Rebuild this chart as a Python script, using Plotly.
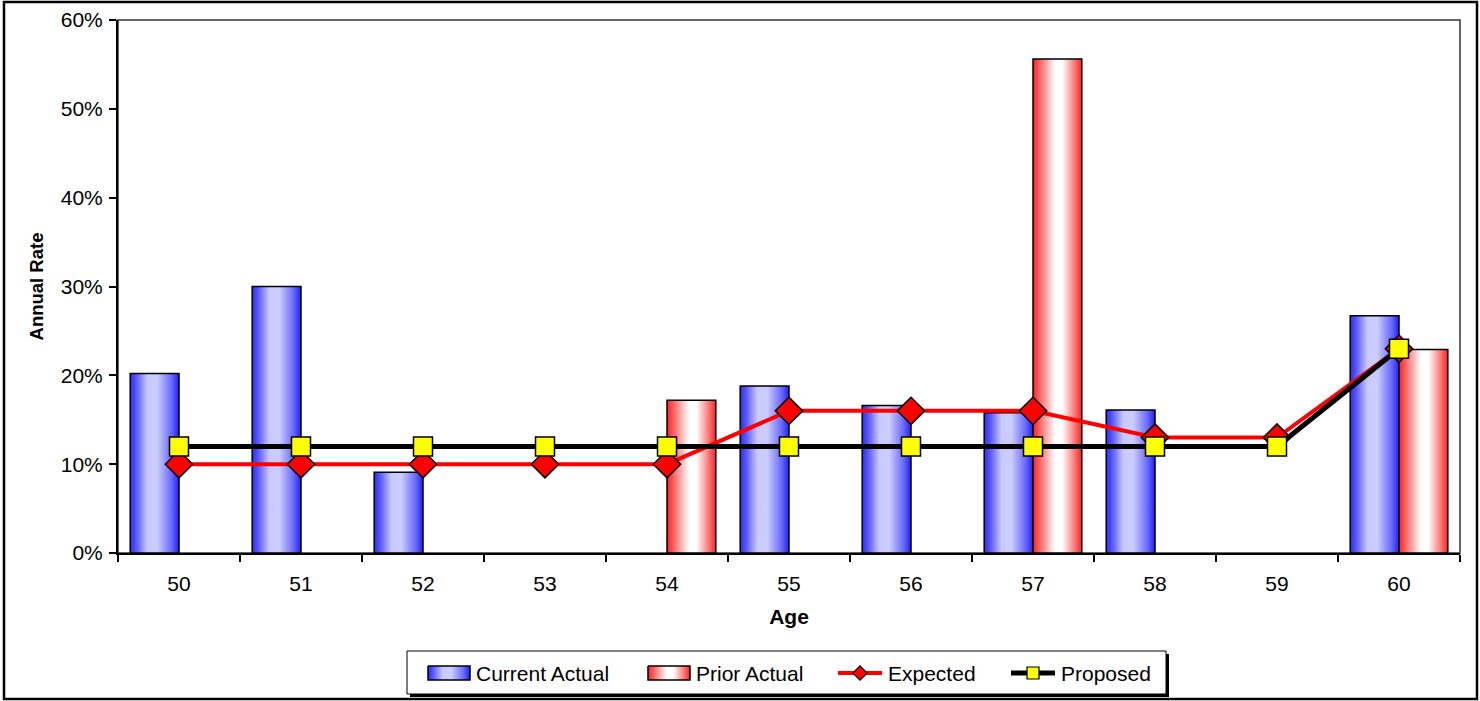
import plotly.graph_objects as go

# Termination rates by age
ages = [50, 51, 52, 53, 54, 55, 56, 57, 58, 59, 60]
current_actual = [0.202, 0.300, 0.091, None, None, 0.188, 0.166, 0.158, 0.161, None, 0.267]
prior_actual = [None, None, None, None, 0.172, None, None, 0.556, None, None, 0.229]
expected = [0.10, 0.10, 0.10, 0.10, 0.10, 0.16, 0.16, 0.16, 0.13, 0.13, 0.23]
proposed = [0.12, 0.12, 0.12, 0.12, 0.12, 0.12, 0.12, 0.12, 0.12, 0.12, 0.23]
y_ticks = [0, 0.1, 0.2, 0.3, 0.4, 0.5, 0.6]
series_names = ["Current Actual", "Prior Actual", "Expected", "Proposed"]

# Figure geometry (pixels)
W, H = 1480, 701
PLOT_L, PLOT_R, PLOT_T, PLOT_B = 118, 1460, 20, 553
BAR_W = 0.4  # width of each bar in axis units (two bars per age)

BLUE_SCALE = [[0, "#2C2CFF"], [0.12, "#5656FF"], [0.35, "#C8C8FF"],
              [0.55, "#CDCDFF"], [0.85, "#6868FF"], [1, "#1E1EFF"]]
RED_SCALE = [[0, "#FF2020"], [0.15, "#FF6a6a"], [0.45, "#FFFFFF"],
             [0.6, "#FFFFFF"], [0.85, "#FF7a7a"], [1, "#FF2020"]]
RED, YELLOW = "#FF0000", "#FFFF00"
FONT = "Liberation Sans, Arial, sans-serif"

fig = go.Figure()


def gradient_rect(x0, x1, y0, y1, scale, xaxis="x", yaxis="y"):
    return go.Scatter(
        x=[x0, x1, x1, x0, x0], y=[y0, y0, y1, y1, y0],
        xaxis=xaxis, yaxis=yaxis,
        mode="lines", fill="toself",
        fillgradient=dict(type="horizontal", colorscale=scale),
        line=dict(color="black", width=1.5),
        showlegend=False, hoverinfo="skip",
    )


def add_bars(values, offset, scale):
    for age, v in zip(ages, values):
        if v is None:
            continue
        fig.add_trace(gradient_rect(age + offset, age + offset + BAR_W, 0, v, scale))


add_bars(current_actual, -BAR_W, BLUE_SCALE)
add_bars(prior_actual, 0.0, RED_SCALE)

fig.add_trace(go.Scatter(
    x=ages, y=expected, name=series_names[2], mode="lines+markers",
    line=dict(color=RED, width=4),
    marker=dict(symbol="diamond", size=21, color=RED,
                line=dict(color="black", width=1.5)),
    showlegend=False,
))
fig.add_trace(go.Scatter(
    x=ages, y=proposed, name=series_names[3], mode="lines+markers",
    line=dict(color="black", width=5),
    marker=dict(symbol="square", size=19, color=YELLOW,
                line=dict(color="black", width=1.5)),
    showlegend=False,
))

# ---- legend, drawn on a full-figure pixel overlay (x2/y2) ----
LEG_L, LEG_R, LEG_T, LEG_B = 407, 1166, 651, 694
leg_cy = (LEG_T + LEG_B) / 2 + 0.5
# symbol start, symbol end, text start for each entry
leg_items = [(428, 470, 475), (648, 690, 695), (838, 882, 887), (1011, 1055, 1060)]

fig.add_trace(gradient_rect(leg_items[0][0], leg_items[0][1], leg_cy - 7, leg_cy + 7,
                            BLUE_SCALE, "x2", "y2"))
fig.add_trace(gradient_rect(leg_items[1][0], leg_items[1][1], leg_cy - 7, leg_cy + 7,
                            RED_SCALE, "x2", "y2"))
for (s0, s1, _), color, lw, sym, fillc in [
        (leg_items[2], RED, 4, "diamond", RED),
        (leg_items[3], "black", 5, "square", YELLOW)]:
    fig.add_trace(go.Scatter(
        x=[s0, s1], y=[leg_cy, leg_cy], xaxis="x2", yaxis="y2", mode="lines",
        line=dict(color=color, width=lw), showlegend=False, hoverinfo="skip"))
    fig.add_trace(go.Scatter(
        x=[(s0 + s1) / 2], y=[leg_cy], xaxis="x2", yaxis="y2", mode="markers",
        marker=dict(symbol=sym, size=12 if sym == "square" else 11, color=fillc,
                    line=dict(color="black", width=1.2)),
        showlegend=False, hoverinfo="skip"))

annotations = [
    dict(x=tx, y=leg_cy, xref="x2", yref="y2", text=name, showarrow=False,
         xanchor="left", yanchor="middle", font=dict(size=21, family=FONT),
         borderpad=0)
    for (_, _, tx), name in zip(leg_items, series_names)
]

boundaries = [a - 0.5 for a in ages] + [ages[-1] + 0.5]

fig.update_layout(
    width=W, height=H,
    margin=dict(l=0, r=0, t=0, b=0, autoexpand=False),
    paper_bgcolor="white", plot_bgcolor="rgba(0,0,0,0)",
    font=dict(family=FONT, size=21, color="black"),
    showlegend=False,
    xaxis=dict(
        domain=[PLOT_L / W, PLOT_R / W], anchor="y",
        range=[ages[0] - 0.5, ages[-1] + 0.5],
        tickvals=ages, ticktext=[str(a) for a in ages],
        ticks="", showgrid=False, zeroline=False,
        showline=True, linecolor="black", linewidth=2,
        minor=dict(tickvals=boundaries, ticks="outside", ticklen=7,
                   tickwidth=2, tickcolor="black", showgrid=False),
        ticklabelstandoff=11,
        title=dict(text="<b>Age</b>", font=dict(size=21), standoff=15),
        tickfont=dict(size=21), automargin=False,
    ),
    yaxis=dict(
        domain=[(H - PLOT_B) / H, (H - PLOT_T) / H], anchor="x",
        range=[0, 0.6], tickvals=y_ticks, tickformat=".0%",
        ticks="outside", ticklen=7, tickwidth=2, tickcolor="black",
        showgrid=False, zeroline=False,
        showline=True, linecolor="black", linewidth=2,
        ticklabelstandoff=2,
        title=dict(text="<b>Annual Rate</b>", font=dict(size=18.5), standoff=12),
        tickfont=dict(size=21), automargin=False,
    ),
    xaxis2=dict(domain=[0, 1], range=[0, W], anchor="y2", visible=False,
                fixedrange=True),
    yaxis2=dict(domain=[0, 1], range=[H, 0], anchor="x2", visible=False,
                fixedrange=True),
    annotations=annotations,
    shapes=[
        # plot-area frame
        dict(type="rect", xref="x domain", yref="y domain", x0=0, x1=1, y0=0, y1=1,
             line=dict(color="#333333", width=1.5), layer="below"),
        # outer chart frame
        dict(type="rect", xref="x2", yref="y2", x0=4, x1=1477, y0=2, y1=699,
             line=dict(color="black", width=2.5), layer="below"),
        # legend shadow and box
        dict(type="rect", xref="x2", yref="y2", x0=LEG_L + 3, x1=LEG_R + 3,
             y0=LEG_T + 3, y1=LEG_B + 3, fillcolor="black",
             line=dict(width=0), layer="below"),
        dict(type="rect", xref="x2", yref="y2", x0=LEG_L, x1=LEG_R,
             y0=LEG_T, y1=LEG_B, fillcolor="white",
             line=dict(color="black", width=1), layer="below"),
    ],
)

fig.write_html("out.html")
